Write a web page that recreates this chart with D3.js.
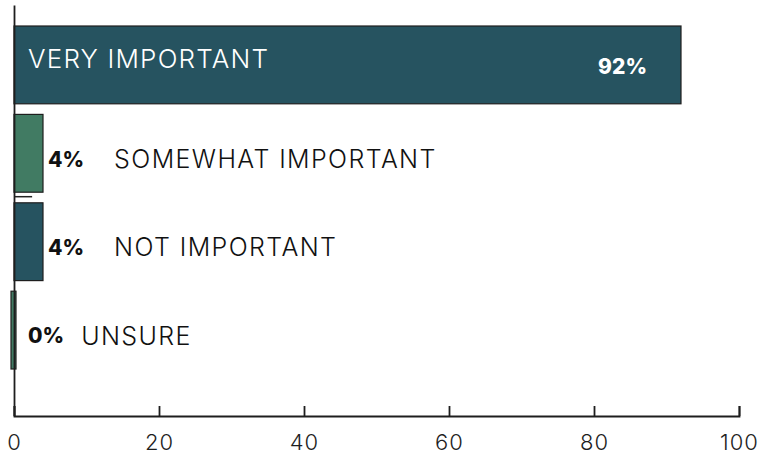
<!DOCTYPE html>
<html>
<head>
<meta charset="utf-8">
<script src="https://cdn.jsdelivr.net/npm/d3@7"></script>
<style>
  body { margin: 0; background: #fff; }
  svg { display: block; }
</style>
</head>
<body>
<svg width="761" height="455"></svg>
<script>
// data
var categories = ["VERY IMPORTANT", "SOMEWHAT IMPORTANT", "NOT IMPORTANT", "UNSURE"];
var values = [92, 4, 4, 0.3];
var valueLabels = ["92%", "4%", "4%", "0%"];
var barColors = ["#265360", "#417b63", "#265360", "#417b63"];
var xTicks = [0, 20, 40, 60, 80, 100];

var svg = d3.select("svg");
var labelFont = "Inter, Lato, sans-serif";

var x = d3.scaleLinear().domain([0, 100]).range([14, 739]);
var y = d3.scaleBand().domain(categories).range([26, 369]).paddingInner(0.12).paddingOuter(0);
var yAxisScale = d3.scaleLinear().domain([0, 1]).range([416, 5]);

var rows = categories.map(function(c, i) {
  return {name: c, value: values[i], label: valueLabels[i], color: barColors[i], i: i};
});

// bars
svg.selectAll(".bar")
  .data(rows)
  .enter()
  .append("rect")
  .attr("class", "bar")
  .attr("x", function(d) { return d.value < 1 ? x(0) - 3 : x(0); })
  .attr("y", function(d) { return y(d.name); })
  .attr("width", function(d) { return d.value < 1 ? 5 : x(d.value) - x(0); })
  .attr("height", y.bandwidth())
  .attr("fill", function(d) { return d.color; })
  .attr("stroke", "#1e1e1e")
  .attr("stroke-width", 1.2);

// little separator under the second bar
svg.append("line")
  .attr("x1", x(0))
  .attr("x2", x(2.5))
  .attr("y1", y(categories[1]) + y.bandwidth() + 4.5)
  .attr("y2", y(categories[1]) + y.bandwidth() + 4.5)
  .attr("stroke", "#222")
  .attr("stroke-width", 1.5);

// x axis
var xAxis = svg.append("g")
  .attr("transform", "translate(0," + yAxisScale(0) + ")")
  .call(d3.axisBottom(x).tickValues(xTicks).tickSizeInner(-10).tickSizeOuter(-10).tickPadding(18));
xAxis.selectAll("path, line").attr("stroke", "#1e1e1e").attr("stroke-width", 1.8);
xAxis.selectAll("text")
  .attr("fill", "#1e1e1e")
  .style("font-family", labelFont)
  .style("font-weight", 300)
  .style("font-size", "22px")
  .style("letter-spacing", "1px");

// y axis (bare line)
var yAxis = svg.append("g")
  .attr("transform", "translate(" + x(0) + ",0)")
  .call(d3.axisLeft(yAxisScale).tickValues([]).tickSizeOuter(0));
yAxis.select(".domain").attr("stroke", "#1e1e1e").attr("stroke-width", 1.8);

// first (big) row: labels inside the bar
var big = rows.filter(function(d) { return d.value > 50; });
svg.selectAll(".inName")
  .data(big)
  .enter()
  .append("text")
  .attr("x", x(0) + 14)
  .attr("y", function(d) { return y(d.name) + y.bandwidth() / 2 - 6; })
  .attr("dy", "0.35em")
  .attr("fill", "#fff")
  .style("font-family", labelFont)
  .style("font-weight", 300)
  .style("font-size", "26px")
  .style("letter-spacing", "1.2px")
  .text(function(d) { return d.name; });

svg.selectAll(".inPct")
  .data(big)
  .enter()
  .append("text")
  .attr("x", function(d) { return x(d.value) - 34; })
  .attr("y", function(d) { return y(d.name) + y.bandwidth() / 2 + 2; })
  .attr("dy", "0.35em")
  .attr("text-anchor", "end")
  .attr("fill", "#fff")
  .style("font-family", labelFont)
  .style("font-weight", 800)
  .style("font-size", "21px")
  .text(function(d) { return d.label; });

// other rows: labels after the bar
var small = rows.filter(function(d) { return d.value <= 50; });
small.forEach(function(d) {
  var cy = y(d.name) + y.bandwidth() / 2 + 6;
  var px = Math.max(x(d.value) + 5, x(0) + 14);
  var pct = svg.append("text")
    .attr("x", px)
    .attr("y", cy)
    .attr("dy", "0.35em")
    .attr("fill", "#111")
    .style("font-family", labelFont)
    .style("font-weight", 800)
    .style("font-size", "21px")
    .text(d.label);
  var w = pct.node().getComputedTextLength();
  svg.append("text")
    .attr("x", px + w + (d.value < 1 ? 17 : 30))
    .attr("y", cy)
    .attr("dy", "0.35em")
    .attr("fill", "#111")
    .style("font-family", labelFont)
    .style("font-weight", 300)
    .style("font-size", "25px")
    .style("letter-spacing", "1.4px")
    .text(d.name);
});
</script>
</body>
</html>
